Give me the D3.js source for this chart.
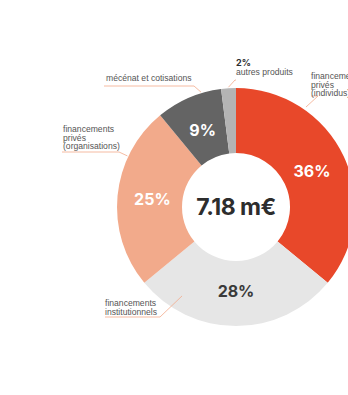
<!DOCTYPE html>
<html>
<head>
<meta charset="utf-8">
<script src="https://cdn.jsdelivr.net/npm/d3@7/dist/d3.min.js"></script>
<style>
  html, body { margin: 0; padding: 0; background: #fff; }
  svg { display: block; }
</style>
</head>
<body>
<svg id="chart" width="348" height="395"></svg>
<script>
// Répartition des ressources (total 7.18 m€)
const categories = [
  "financements privés (individus)",
  "financements institutionnels",
  "financements privés (organisations)",
  "mécénat et cotisations",
  "autres produits"
];
const shares = [36, 28, 25, 9, 2];
const sliceColors = ["#E8482A", "#E6E6E6", "#F2AA8B", "#646464", "#B4B4B4"];
const pctColors = ["#ffffff", "#3a3a3a", "#ffffff", "#ffffff", null];
const totalLabel = "7.18 m€";

// Outside annotations: text lines, text anchor position, underline extent,
// and where along the slice (fraction of its angle, radius) the leader ends.
const notes = [
  { i: 0, lines: ["financements", "privés", "(individus)"], x: 311, y: 79, ul: [311, 350], ulY: 96, lx: 318, f: 0.27, r: 122 },
  { i: 3, lines: ["mécénat et cotisations"], x: 106, y: 81, ul: [104, 194], ulY: 86, lx: 194, f: 0.7, r: 120 },
  { i: 4, lines: ["autres produits"], bold: "2%", x: 236, y: 75, ul: [236, 292], ulY: 80, lx: 235, f: 0.5, r: 120 },
  { i: 2, lines: ["financements", "privés", "(organisations)"], x: 63, y: 132, ul: [62, 119], ulY: 152, lx: 119, f: 0.72, r: 120 },
  { i: 1, lines: ["financements", "institutionnels"], x: 105, y: 306, ul: [105, 160], ulY: 317, lx: 160, f: 0.81, r: 104 }
];

const svg = d3.select("#chart");
const cx = 236, cy = 207;
const rOuter = 119, rInner = 54;

const g = svg.append("g").attr("transform", `translate(${cx},${cy})`);

const pie = d3.pie().sort(null).value(d => d)(shares);
const arc = d3.arc().innerRadius(rInner).outerRadius(rOuter);
const labelArc = d3.arc().innerRadius(84).outerRadius(84);

g.selectAll("path.slice")
  .data(pie)
  .join("path")
  .attr("class", "slice")
  .attr("d", arc)
  .attr("fill", (d, i) => sliceColors[i]);

// Percentages inside the ring (the smallest slice is labelled outside)
g.selectAll("text.pct")
  .data(pie.filter((d, i) => pctColors[i]))
  .join("text")
  .attr("class", "pct")
  .attr("transform", d => {
    const [x, y] = labelArc.centroid(d);
    return `translate(${x},${y})`;
  })
  .attr("text-anchor", "middle")
  .attr("dy", "0.36em")
  .attr("font-family", "Inter, 'Open Sans', sans-serif")
  .attr("font-weight", 700)
  .attr("font-size", 16)
  .attr("fill", d => pctColors[d.index])
  .text(d => d.data + "%");

// Total in the middle
g.append("text")
  .attr("text-anchor", "middle")
  .attr("dy", "0.36em")
  .attr("font-family", "Inter, 'Open Sans', sans-serif")
  .attr("font-weight", 700)
  .attr("font-size", 23)
  .attr("letter-spacing", -0.5)
  .attr("fill", "#2d2d2d")
  .text(totalLabel);

// Annotations with leader lines
const lineColor = "#F2A98A";
notes.forEach(n => {
  const d = pie[n.i];
  const a = d.startAngle + n.f * (d.endAngle - d.startAngle);
  const ex = cx + n.r * Math.sin(a);
  const ey = cy - n.r * Math.cos(a);

  svg.append("polyline")
    .attr("points", `${n.ul[0]},${n.ulY} ${n.lx},${n.ulY} ${ex},${ey}`)
    .attr("fill", "none")
    .attr("stroke", lineColor)
    .attr("stroke-width", 0.8);

  const t = svg.append("text")
    .attr("x", n.x)
    .attr("y", n.y)
    .attr("font-family", "'Liberation Sans', Arial, sans-serif")
    .attr("font-size", 8.6)
    .attr("fill", "#555");

  let lines = n.lines;
  if (n.bold) {
    svg.append("text")
      .attr("x", n.x)
      .attr("y", n.y - 9)
      .attr("font-family", "Inter, 'Open Sans', sans-serif")
      .attr("font-weight", 700)
      .attr("font-size", 9)
      .attr("fill", "#2d2d2d")
      .text(n.bold === "2%" ? shares[4] + "%" : n.bold);
  }
  lines.forEach((s, k) => {
    t.append("tspan")
      .attr("x", n.x)
      .attr("dy", k === 0 ? 0 : 8.6)
      .text(s);
  });
});
</script>
</body>
</html>
